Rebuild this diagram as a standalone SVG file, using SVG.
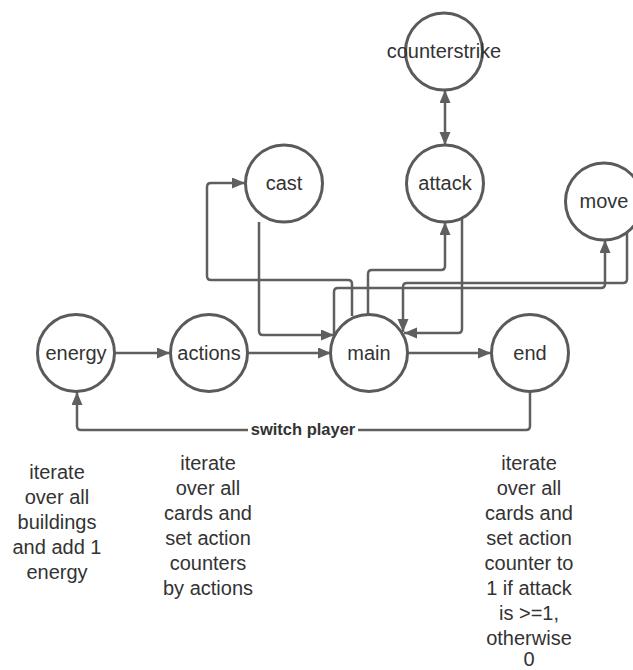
<svg xmlns="http://www.w3.org/2000/svg" width="633" height="670" viewBox="0 0 633 670">
<style>
.node circle{fill:#fff;stroke:#5a5a5a;stroke-width:3}
.node text{font-family:"Liberation Sans",Arial,sans-serif;font-size:20px;fill:#333;text-anchor:middle}
.conn path{fill:none;stroke:#5f5f5f;stroke-width:2.5}
.note{font-family:"Liberation Sans",Arial,sans-serif;font-size:20px;fill:#333;text-anchor:middle}
.lbl{font-family:"Liberation Sans",Arial,sans-serif;font-size:16.5px;font-weight:bold;fill:#333;text-anchor:middle}
</style>
<defs>
<marker id="ah" markerUnits="userSpaceOnUse" markerWidth="14" markerHeight="12" refX="13" refY="5.5" orient="auto-start-reverse" viewBox="0 0 14 12">
<path d="M0,0 L13,5.5 L0,11 z" fill="#5f5f5f"/>
</marker>
</defs>
<rect width="633" height="670" fill="#fff"/>
<g id="connectors" class="conn">
<path d="M115,353 H170" marker-end="url(#ah)"/>
<path d="M248,353 H331" marker-end="url(#ah)"/>
<path d="M408,353 H491" marker-end="url(#ah)"/>
<path d="M530,391 V426 Q530,430 526,430 H81 Q77,430 77,426 V392" marker-end="url(#ah)"/>
<path d="M352,316 V284 Q352,280 348,280 H211 Q207,280 207,276 V187 Q207,183 211,183 H245" marker-end="url(#ah)"/>
<path d="M259,222 V331 Q259,335 263,335 H334" marker-end="url(#ah)"/>
<path d="M368,315 V274 Q368,270 372,270 H441 Q445,270 445,266 V222" marker-end="url(#ah)"/>
<path d="M462,216 V329 Q462,333 458,333 H404" marker-end="url(#ah)"/>
<path d="M334,334 V292 Q334,288 338,288 H601 Q605,288 605,284 V240" marker-end="url(#ah)"/>
<path d="M627,213 V279 Q627,283 623,283 H407 Q403,283 403,287 V332" marker-end="url(#ah)"/>
<path d="M445,90 V145" marker-start="url(#ah)" marker-end="url(#ah)"/>
</g>
<rect x="248" y="421" width="110" height="18" fill="#fff"/>
<text class="lbl" x="303" y="435">switch player</text>
<g id="node-energy" class="node"><circle cx="76" cy="353" r="38.5"/><text x="76" y="360">energy</text></g>
<g id="node-actions" class="node"><circle cx="209" cy="353" r="38.5"/><text x="209" y="360">actions</text></g>
<g id="node-main" class="node"><circle cx="369" cy="353" r="38.5"/><text x="369" y="360">main</text></g>
<g id="node-end" class="node"><circle cx="530" cy="353" r="38.5"/><text x="530" y="360">end</text></g>
<g id="node-cast" class="node"><circle cx="284" cy="183.5" r="38.5"/><text x="284" y="190">cast</text></g>
<g id="node-attack" class="node"><circle cx="445" cy="183.5" r="38.5"/><text x="445" y="190">attack</text></g>
<g id="node-counterstrike" class="node"><circle cx="444" cy="51.5" r="38.5" style="fill:none"/><text x="444" y="58">counterstrike</text></g>
<g id="node-move" class="node"><circle cx="604" cy="201.5" r="38.5"/><text x="604" y="208">move</text></g>
<g id="notes">
<text class="note" x="57" y="479">iterate</text>
<text class="note" x="57" y="504">over all</text>
<text class="note" x="57" y="529">buildings</text>
<text class="note" x="57" y="554">and add 1</text>
<text class="note" x="57" y="579">energy</text>
<text class="note" x="208" y="470">iterate</text>
<text class="note" x="208" y="495">over all</text>
<text class="note" x="208" y="520">cards and</text>
<text class="note" x="208" y="545">set action</text>
<text class="note" x="208" y="570">counters</text>
<text class="note" x="208" y="595">by actions</text>
<text class="note" x="529" y="470">iterate</text>
<text class="note" x="529" y="495">over all</text>
<text class="note" x="529" y="520">cards and</text>
<text class="note" x="529" y="545">set action</text>
<text class="note" x="529" y="570">counter to</text>
<text class="note" x="529" y="595">1 if attack</text>
<text class="note" x="529" y="620">is &gt;=1,</text>
<text class="note" x="529" y="645">otherwise</text>
<text class="note" x="529" y="666">0</text>
</g>
</svg>
